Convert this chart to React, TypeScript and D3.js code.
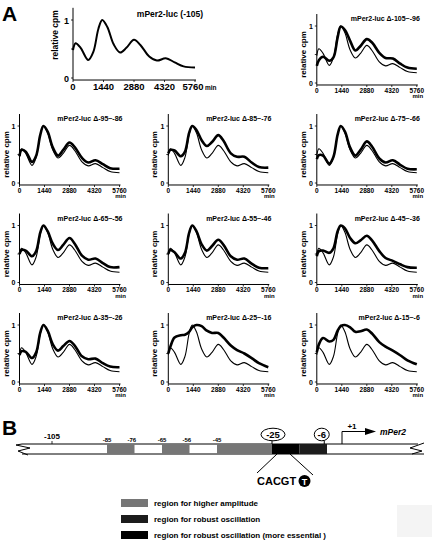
import React from 'react';
import * as d3 from 'd3';

// ---------- DATA ----------
const TIMES = [0, 120, 360, 720, 960, 1200, 1380, 1620, 1920, 2220, 2520, 2880, 3180, 3600, 3960, 4380, 4800, 5220, 5760];
const WT_105 = [0.48, 0.60, 0.52, 0.31, 0.45, 0.85, 1.0, 0.88, 0.58, 0.44, 0.52, 0.66, 0.57, 0.37, 0.30, 0.34, 0.27, 0.20, 0.18];
const D_105_96 = [0.30, 0.40, 0.46, 0.39, 0.45, 0.80, 0.99, 0.93, 0.74, 0.57, 0.65, 0.77, 0.71, 0.53, 0.44, 0.43, 0.34, 0.27, 0.25];
const D_95_86 = [0.47, 0.58, 0.55, 0.37, 0.48, 0.85, 1.0, 0.90, 0.62, 0.48, 0.58, 0.71, 0.63, 0.44, 0.36, 0.40, 0.33, 0.26, 0.25];
const D_85_76 = [0.52, 0.58, 0.57, 0.47, 0.55, 0.88, 1.0, 0.93, 0.75, 0.65, 0.72, 0.84, 0.74, 0.52, 0.46, 0.46, 0.36, 0.28, 0.27];
const D_75_66 = [0.42, 0.49, 0.48, 0.34, 0.46, 0.85, 1.0, 0.90, 0.62, 0.48, 0.58, 0.73, 0.64, 0.43, 0.36, 0.40, 0.32, 0.25, 0.24];
const D_65_56 = [0.50, 0.57, 0.56, 0.46, 0.55, 0.88, 1.0, 0.90, 0.68, 0.57, 0.66, 0.78, 0.68, 0.47, 0.40, 0.42, 0.34, 0.27, 0.27];
const D_55_46 = [0.50, 0.57, 0.53, 0.42, 0.52, 0.87, 1.0, 0.90, 0.67, 0.56, 0.64, 0.75, 0.66, 0.46, 0.40, 0.42, 0.33, 0.26, 0.25];
const D_45_36 = [0.46, 0.55, 0.56, 0.52, 0.60, 0.90, 1.0, 0.95, 0.78, 0.69, 0.74, 0.82, 0.74, 0.55, 0.43, 0.38, 0.32, 0.27, 0.26];
const D_35_26 = [0.47, 0.54, 0.53, 0.42, 0.52, 0.87, 1.0, 0.90, 0.66, 0.55, 0.63, 0.72, 0.64, 0.45, 0.40, 0.41, 0.33, 0.27, 0.26];
const D_25_16 = [0.50, 0.62, 0.78, 0.82, 0.83, 0.88, 0.96, 1.0, 0.98, 0.90, 0.86, 0.86, 0.78, 0.64, 0.56, 0.50, 0.42, 0.33, 0.26];
const D_15_6 = [0.52, 0.66, 0.77, 0.71, 0.74, 0.90, 0.98, 1.0, 0.96, 0.88, 0.89, 0.92, 0.85, 0.70, 0.62, 0.55, 0.47, 0.38, 0.31];

const MUTANT_TITLES = [
  'mPer2-luc Δ-105~-96',
  'mPer2-luc Δ-95~-86', 'mPer2-luc Δ-85~-76', 'mPer2-luc Δ-75~-66',
  'mPer2-luc Δ-65~-56', 'mPer2-luc Δ-55~-46', 'mPer2-luc Δ-45~-36',
  'mPer2-luc Δ-35~-26', 'mPer2-luc Δ-25~-16', 'mPer2-luc Δ-15~-6',
];
const MUTANT_SERIES = [D_105_96, D_95_86, D_85_76, D_75_66, D_65_56, D_55_46, D_45_36, D_35_26, D_25_16, D_15_6];
const WT_TITLE = 'mPer2-luc (-105)';
const X_TICKS = [0, 1440, 2880, 4320, 5760];
const Y_TICK_LABELS = [0, 1];
const Y_TICK_MARKS = [0, 0.5, 1];

const REGION_START = [-85, -65, -45, -25, -15];
const REGION_END = [-76, -56, -26, -16, -6];
const REGION_KIND = [0, 0, 0, 2, 1];
const REGION_COLORS = ['#767676', '#1c1c1c', '#000000'];
const BOX_LABELS = [-85, -76, -65, -56, -45];
const LEGEND_LABELS = [
  'region for higher amplitude',
  'region for robust oscillation',
  'region for robust oscillation (more essential )',
];

const FONT = "'Liberation Sans', Arial, Helvetica, sans-serif";

type PanelProps = {
  x0: number; yOne: number; w: number; unit: number; big: boolean;
  title: string; mutant?: number[];
};

function Panel({ x0, yOne, w, unit, big, title, mutant }: PanelProps) {
  const x = d3.scaleLinear().domain([0, 5760]).range([x0, x0 + w]);
  const y = d3.scaleLinear().domain([0, 1]).range([yOne + unit, yOne]);
  const line = d3.line<number>()
    .x((_, i) => x(TIMES[i]))
    .y((d) => y(d))
    .curve(d3.curveCatmullRom.alpha(0.5));
  const axisY = y(-0.035);
  const tickFs = big ? 9.5 : 6.5;
  return (
    <g>
      {/* axes */}
      <line x1={x0} x2={x0} y1={y(1.21)} y2={axisY} stroke="#000" strokeWidth={1} />
      <line x1={x0} x2={x(5760) + 1} y1={axisY} y2={axisY} stroke="#000" strokeWidth={1} />
      {Y_TICK_MARKS.map((t) => (
        <line key={'ym' + t} x1={x0 - 2} x2={x0} y1={y(t)} y2={y(t)} stroke="#000" strokeWidth={0.8} />
      ))}
      {Y_TICK_LABELS.map((t) => (
        <text key={'yl' + t} x={x0 - 4} y={y(t) + (big ? 3.5 : 2.5)} textAnchor="end"
          fontSize={big ? 9 : 7} fontWeight="bold">{t}</text>
      ))}
      {X_TICKS.map((t) => (
        <g key={'x' + t}>
          <line x1={x(t)} x2={x(t)} y1={axisY} y2={axisY + 2} stroke="#000" strokeWidth={0.8} />
          <text x={big && t === 5760 ? x(t) - 2 : x(t)} y={axisY + (big ? 10 : 8)} textAnchor="middle" fontSize={tickFs} fontWeight="bold">{t}</text>
        </g>
      ))}
      {big ? (
        <text x={x(5760) + 10} y={axisY + 10} fontSize={6.5} fontWeight="bold">min</text>
      ) : (
        <text x={x(5760) + 1} y={axisY + 13.5} textAnchor="middle" fontSize={6} fontWeight="bold">min</text>
      )}
      {/* y label */}
      <text transform={big ? `translate(${x0 - 15},${yOne + 15}) rotate(-90)` : `translate(${x0 - 11},${y(0.5)}) rotate(-90)`}
        textAnchor="middle" fontSize={big ? 8.5 : 8} fontWeight="bold">relative cpm</text>
      {/* title */}
      <text x={big ? x0 + 130 : x0 + 103} y={big ? yOne - 3.5 : yOne - 5} textAnchor="end"
        fontSize={big ? 8.5 : 7} fontWeight="bold">{title}</text>
      {/* curves */}
      <path d={line(WT_105) || ''} fill="none" stroke="#000" strokeWidth={big ? 2 : 1.1} />
      {mutant && <path d={line(mutant) || ''} fill="none" stroke="#000" strokeWidth={2.6} />}
    </g>
  );
}

function PanelB() {
  const bx = d3.scaleLinear().domain([-105, 1]).range([52, 343.5]);
  const top = 444;
  const bot = 454;
  return (
    <g>
      <text x={2} y={435} fontSize={21} fontWeight="bold">B</text>
      {/* bar */}
      <rect x={22} y={top} width={396} height={bot - top} fill="#fff" />
      <line x1={22} x2={418} y1={top} y2={top} stroke="#000" strokeWidth={1} />
      <line x1={22} x2={418} y1={bot} y2={bot} stroke="#000" strokeWidth={1} />
      {REGION_START.map((s, i) => (
        <rect key={'r' + i} x={bx(s)} y={top} width={bx(REGION_END[i] + 1) - bx(s)} height={bot - top}
          fill={REGION_COLORS[REGION_KIND[i]]} />
      ))}
      {/* break marks */}
      <polyline points={`16,${top + 1} 30,${top + 4} 18,${bot - 3} 28,${bot + 1}`} fill="none" stroke="#000" strokeWidth={1} />
      <polyline points={`424,${top - 1} 410,${top + 4} 422,${bot - 3} 412,${bot}`} fill="none" stroke="#000" strokeWidth={1} />
      <line x1={16} x2={22} y1={top + 1} y2={top} stroke="#000" />
      <line x1={418} x2={424} y1={bot} y2={bot} stroke="#000" />
      {/* -105 */}
      <line x1={bx(-105)} x2={bx(-105)} y1={top - 3} y2={top} stroke="#000" strokeWidth={0.8} />
      <text x={bx(-105)} y={439} textAnchor="middle" fontSize={8} fontWeight="bold">-105</text>
      {BOX_LABELS.map((v) => (
        <text key={'bl' + v} x={bx(v)} y={442} textAnchor="middle" fontSize={6} fontWeight="bold">{v}</text>
      ))}
      {/* -25 */}
      <ellipse cx={bx(-25) + 1} cy={434.5} rx={12} ry={6.3} fill="#fff" stroke="#000" strokeWidth={1} />
      <text x={bx(-25) + 1} y={438} textAnchor="middle" fontSize={9.5} fontWeight="bold">-25</text>
      <line x1={bx(-25)} x2={bx(-25)} y1={440.8} y2={top} stroke="#000" strokeWidth={1} />
      {/* -6 */}
      <ellipse cx={bx(-6) - 2.5} cy={434.5} rx={7.5} ry={6.3} fill="#fff" stroke="#000" strokeWidth={1} />
      <text x={bx(-6) - 2.5} y={438} textAnchor="middle" fontSize={9.5} fontWeight="bold">-6</text>
      <line x1={bx(-6)} x2={bx(-6)} y1={440.5} y2={top} stroke="#000" strokeWidth={1} />
      {/* +1 arrow */}
      <path d={`M${bx(1) - 1.5},${top} V431.5 H367`} fill="none" stroke="#000" strokeWidth={1} />
      <path d="M365,428 L376,431.5 L365,435 Z" fill="#000" />
      <text x={352} y={429} textAnchor="middle" fontSize={8} fontWeight="bold">+1</text>
      <text x={380} y={435} fontSize={8.5} fontWeight="bold" fontStyle="italic">mPer2</text>
      {/* CACGT */}
      <line x1={277} y1={bot} x2={257} y2={473} stroke="#000" strokeWidth={1} />
      <line x1={290} y1={bot} x2={313} y2={475} stroke="#000" strokeWidth={1} />
      <text x={257} y={485} fontSize={11} fontWeight="bold">CACGT</text>
      <circle cx={304.5} cy={481} r={6} fill="#000" />
      <text x={304.5} y={484.5} textAnchor="middle" fontSize={9} fontWeight="bold" fill="#fff">T</text>
      {/* legend */}
      {LEGEND_LABELS.map((l, i) => (
        <g key={'lg' + i}>
          <rect x={121} y={499 + i * 16} width={27} height={8} fill={REGION_COLORS[i]} />
          <text x={154} y={506 + i * 16} fontSize={8} fontWeight="bold">{l}</text>
        </g>
      ))}
      <rect x={397} y={505} width={35} height={32} fill="#f4f4f4" />
    </g>
  );
}

export default function App() {
  const colX = [19.5, 168.3, 316.8];
  const rowY = [126, 225.5, 325];
  return (
    <svg width={432} height={540} style={{ position: 'absolute', left: 0, top: 0, background: '#fff' }}
      fontFamily={FONT}>
      <rect x={0} y={0} width={432} height={540} fill="#fff" />
      <text x={2} y={21} fontSize={21} fontWeight="bold">A</text>
      <Panel x0={73} yOne={20} w={122} unit={58} big={true} title={WT_TITLE} />
      <Panel x0={colX[2]} yOne={26} w={100} unit={57} big={false} title={MUTANT_TITLES[0]} mutant={MUTANT_SERIES[0]} />
      {MUTANT_SERIES.slice(1).map((s, i) => (
        <Panel key={i} x0={colX[i % 3]} yOne={rowY[Math.floor(i / 3)]} w={100} unit={57} big={false}
          title={MUTANT_TITLES[i + 1]} mutant={s} />
      ))}
      <PanelB />
    </svg>
  );
}
